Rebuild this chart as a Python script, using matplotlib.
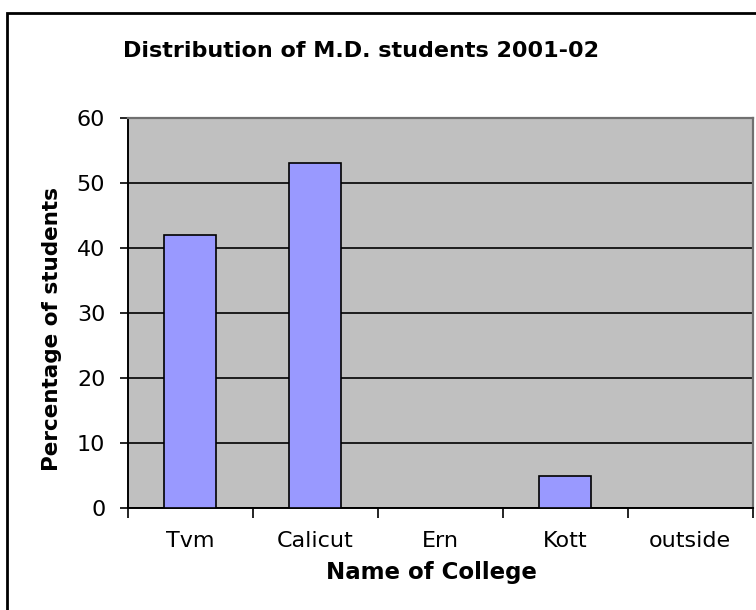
import matplotlib
matplotlib.use("Agg")
import matplotlib.pyplot as plt
from matplotlib.patches import Rectangle

colleges = ["Tvm", "Calicut", "Ern", "Kott", "outside"]
percent = [42, 53, 0, 5, 0]
y_ticks = [0, 10, 20, 30, 40, 50, 60]

plt.rcParams["font.family"] = ["DejaVu Sans"]

fig = plt.figure(figsize=(7.56, 6.10), dpi=100)
W, H = 756, 610

# outer chart frame (runs off the right and bottom edges)
fig.patches.append(Rectangle((7 / W, -0.1), 1.2, (H - 13) / H + 0.1,
                             transform=fig.transFigure, fill=False,
                             edgecolor="black", linewidth=2))

ax = fig.add_axes([127.5 / W, (H - 508) / H, 625 / W, 390 / H])
ax.set_facecolor("#C0C0C0")

x = list(range(len(colleges)))
ax.bar(x, percent, width=0.42, color="#9999FF", edgecolor="black",
       linewidth=1.2, zorder=3)

ax.set_xlim(-0.5, len(colleges) - 0.5)
ax.set_ylim(0, 60)
ax.set_yticks(y_ticks)
ax.set_xticks(x)
ax.set_xticklabels(colleges)
ax.set_xticks([i - 0.5 for i in range(len(colleges) + 1)], minor=True)
ax.tick_params(axis="x", which="major", length=0, pad=24, labelsize=16)
ax.tick_params(axis="x", which="minor", length=7, width=1.2, direction="out")
ax.tick_params(axis="y", length=6, width=1.2, direction="out", pad=10,
               labelsize=16)
for lbl in ax.get_xticklabels():
    lbl.set_verticalalignment("center")

ax.set_axisbelow(True)
ax.yaxis.grid(True, color="black", linewidth=1.2)

for side in ("left", "bottom"):
    ax.spines[side].set_color("black")
    ax.spines[side].set_linewidth(1.4)
for side in ("top", "right"):
    ax.spines[side].set_color("#707070")
    ax.spines[side].set_linewidth(1.6)

fig.text(431 / W, 1 - 572 / H, "Name of College", ha="center", va="center",
         fontsize=16.5, fontweight="bold")
fig.text(52 / W, 1 - 329 / H, "Percentage of students", ha="center",
         va="center", rotation=90, fontsize=15.5, fontweight="bold")
fig.text(361 / W, 1 - 51 / H, "Distribution of M.D. students 2001-02",
         ha="center", va="center", fontsize=16, fontweight="bold")

fig.savefig("out.png", dpi=100)
